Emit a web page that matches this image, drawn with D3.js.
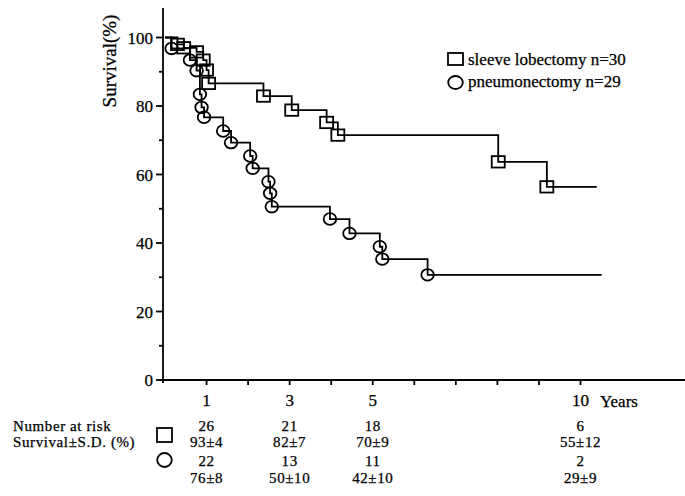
<!DOCTYPE html>
<html>
<head>
<meta charset="utf-8">
<script src="https://d3js.org/d3.v7.min.js"></script>
<style>
    body { margin: 0; background: white; }
    svg { display: block; }
    text {
        font-family: "Liberation Serif", "Times New Roman", serif;
        font-size: 17px;
        fill: black;
        stroke: black;
        stroke-width: 0.25px;
    }
    .table text { font-size: 15px; letter-spacing: 0.6px; }
    .curve { fill: none; stroke: black; stroke-width: 1.8px; }
    .mark { fill: none; stroke: black; stroke-width: 1.8px; }
    .axisline { stroke: black; stroke-width: 1.8px; fill: none; }
</style>
</head>
<body>
<script>
    // sleeve lobectomy (squares)
    var sleeveTimes = [0.30, 0.45, 0.76, 0.92, 1.00, 1.05, 2.37, 3.05, 3.89, 4.16, 8.02, 9.19];
    var sleeveSurv  = [98.0, 97.0, 95.8, 93.4, 90.5, 86.6, 82.9, 78.8, 75.2, 71.5, 63.7, 56.4];
    var sleeveEnd = 10.39;

    // pneumonectomy (circles)
    var pneumoTimes = [0.16, 0.60, 0.76, 0.84, 0.88, 0.94, 1.40, 1.59, 2.05, 2.11, 2.49, 2.53, 2.57, 3.97, 4.44, 5.17, 5.23, 6.32];
    var pneumoSurv  = [96.8, 93.4, 90.3, 83.4, 79.6, 76.7, 72.7, 69.3, 65.4, 61.8, 57.9, 54.5, 50.6, 47.0, 42.8, 38.9, 35.3, 30.7];
    var pneumoEnd = 10.51;

    // axes
    var yMajorTicks = [0, 20, 40, 60, 80, 100];
    var yMinorTicks = [10, 30, 50, 70, 90];
    var xTicks = [1, 2, 3, 4, 5, 6, 7, 8, 9, 10];
    var xTickLabels = [1, 3, 5, 10];

    // number at risk table
    var riskYears = [1, 3, 5, 10];
    var sleeveAtRisk = ["26", "21", "18", "6"];
    var sleeveSurvSD = ["93±4", "82±7", "70±9", "55±12"];
    var pneumoAtRisk = ["22", "13", "11", "2"];
    var pneumoSurvSD = ["76±8", "50±10", "42±10", "29±9"];

    var W = 685, H = 496;
    var svg = d3.select("body").append("svg").attr("width", W).attr("height", H);

    var x = d3.scaleLinear().domain([0, 10]).range([165, 580.5]);
    var y = d3.scaleLinear().domain([0, 100]).range([380, 37.5]);

    var axisX = 163;
    var axisY = y(0);

    // axis lines
    svg.append("line").attr("class", "axisline")
        .attr("x1", axisX).attr("x2", axisX).attr("y1", 8).attr("y2", axisY + 3);
    svg.append("line").attr("class", "axisline")
        .attr("x1", axisX - 3).attr("x2", W).attr("y1", axisY).attr("y2", axisY);

    // y ticks
    svg.append("g").selectAll("line").data(yMajorTicks).enter().append("line")
        .attr("class", "axisline")
        .attr("x1", axisX - 7).attr("x2", axisX)
        .attr("y1", function (d) { return y(d); }).attr("y2", function (d) { return y(d); });
    svg.append("g").selectAll("line").data(yMinorTicks).enter().append("line")
        .attr("class", "axisline")
        .attr("x1", axisX - 4).attr("x2", axisX)
        .attr("y1", function (d) { return y(d); }).attr("y2", function (d) { return y(d); });
    svg.append("g").selectAll("text").data(yMajorTicks).enter().append("text")
        .attr("x", axisX - 10)
        .attr("y", function (d) { return y(d) + 6; })
        .attr("text-anchor", "end")
        .text(function (d) { return d; });

    // x ticks
    svg.append("g").selectAll("line").data(xTicks).enter().append("line")
        .attr("class", "axisline")
        .attr("x1", function (d) { return x(d); }).attr("x2", function (d) { return x(d); })
        .attr("y1", axisY).attr("y2", axisY + 5);
    svg.append("g").selectAll("text").data(xTickLabels).enter().append("text")
        .attr("x", function (d) { return x(d); })
        .attr("y", 406)
        .attr("text-anchor", "middle")
        .text(function (d) { return d; });
    svg.append("text").attr("x", 600).attr("y", 407).text("Years");

    // y label
    svg.append("text")
        .attr("transform", "translate(116,61) rotate(-90)")
        .attr("text-anchor", "middle")
        .style("font-size", "19px")
        .text("Survival(%)");

    // survival curves
    var line = d3.line()
        .x(function (d) { return x(d[0]); })
        .y(function (d) { return y(d[1]); })
        .curve(d3.curveStepAfter);

    function stepPoints(times, surv, end) {
        var pts = [[0, 100]];
        times.forEach(function (t, i) { pts.push([t, surv[i]]); });
        pts.push([end, surv[surv.length - 1]]);
        return pts;
    }

    svg.append("path").attr("class", "curve")
        .attr("d", line(stepPoints(sleeveTimes, sleeveSurv, sleeveEnd)));
    svg.append("path").attr("class", "curve")
        .attr("d", line(stepPoints(pneumoTimes, pneumoSurv, pneumoEnd)));

    // markers
    svg.append("g").selectAll("rect").data(sleeveTimes).enter().append("rect")
        .attr("class", "mark")
        .attr("x", function (d) { return x(d) - 6.5; })
        .attr("y", function (d, i) { return y(sleeveSurv[i]) - 5.7; })
        .attr("width", 13).attr("height", 11.4);
    svg.append("g").selectAll("ellipse").data(pneumoTimes).enter().append("ellipse")
        .attr("class", "mark")
        .attr("cx", function (d) { return x(d); })
        .attr("cy", function (d, i) { return y(pneumoSurv[i]); })
        .attr("rx", 6.3).attr("ry", 5.8);

    // legend
    svg.append("rect").attr("class", "mark")
        .attr("x", 448).attr("y", 53).attr("width", 15).attr("height", 12);
    svg.append("text").attr("x", 468).attr("y", 65).text("sleeve lobectomy n=30");
    svg.append("ellipse").attr("class", "mark")
        .attr("cx", 455.5).attr("cy", 82.5).attr("rx", 7.3).attr("ry", 6.5);
    svg.append("text").attr("x", 468).attr("y", 87).text("pneumonectomy n=29");

    // number at risk table
    var table = svg.append("g").attr("class", "table");
    table.append("text").attr("x", 13).attr("y", 431).text("Number at risk");
    table.append("text").attr("x", 13).attr("y", 447).text("Survival±S.D. (%)");
    table.append("rect").attr("class", "mark")
        .attr("x", 157).attr("y", 428).attr("width", 15).attr("height", 14);
    table.append("ellipse").attr("class", "mark")
        .attr("cx", 164.5).attr("cy", 460).attr("rx", 7.3).attr("ry", 7);

    var rows = [
        { vals: sleeveAtRisk, yy: 431 },
        { vals: sleeveSurvSD, yy: 447 },
        { vals: pneumoAtRisk, yy: 466 },
        { vals: pneumoSurvSD, yy: 483 }
    ];
    rows.forEach(function (r) {
        table.append("g").selectAll("text").data(riskYears).enter().append("text")
            .attr("x", function (d) { return x(d); })
            .attr("y", r.yy)
            .attr("text-anchor", "middle")
            .text(function (d, i) { return r.vals[i]; });
    });
</script>
</body>
</html>
